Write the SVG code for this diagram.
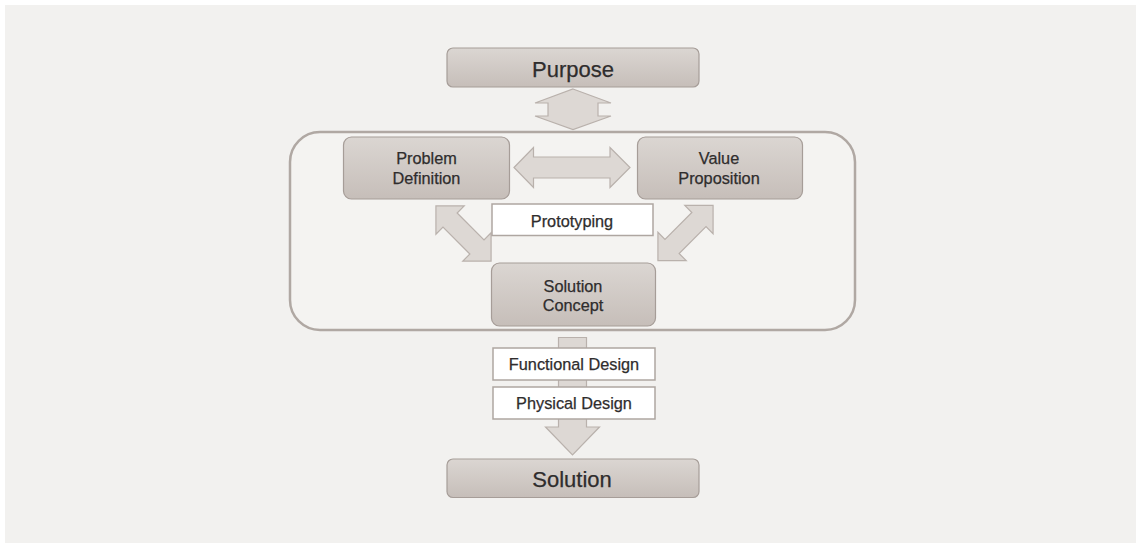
<svg xmlns="http://www.w3.org/2000/svg" width="1136" height="543" viewBox="0 0 1136 543">
  <defs>
    <linearGradient id="boxGrad" x1="0" y1="0" x2="0" y2="1">
      <stop offset="0" stop-color="#dbd6d2"/>
      <stop offset="1" stop-color="#c6beb9"/>
    </linearGradient>
    <style>
      .box { fill: url(#boxGrad); stroke: #a69d98; stroke-width: 1.2; }
      .wbox { fill: #ffffff; stroke: #aea6a1; stroke-width: 1.5; }
      .arrow { fill: #ddd8d4; stroke: #b9b1ac; stroke-width: 1.2; stroke-linejoin: miter; }
      .container { fill: #f4f3f1; stroke: #b0a8a3; stroke-width: 2.5; }
      text { font-family: "Liberation Sans", Arial, sans-serif; fill: #2f2d2d; stroke: #2f2d2d; stroke-width: 0.25; text-anchor: middle; }
      .big { font-size: 22px; }
      .mid { font-size: 16.3px; }
    </style>
  </defs>
  <rect x="0" y="0" width="1136" height="543" fill="#ffffff"/>
  <rect x="5" y="5" width="1131" height="538" fill="#f2f1ef"/>

  <g id="container">
    <rect class="container" x="290" y="132" width="565" height="198" rx="30" ry="30"/>
  </g>

  <g id="connectors">
    <path class="arrow" d="M573,89 L611,103 L598,103 L598,116 L611,116 L573,129.5 L535,116 L548,116 L548,103 L535,103 Z"/>
    <path class="arrow" d="M514,167.5 L533.5,147.5 L533.5,157 L610,157 L610,147.5 L630,167.5 L610,187.5 L610,178 L533.5,178 L533.5,187.5 Z"/>
    <path class="arrow" transform="translate(463.5,233.5) rotate(45)" d="M-39,0 L-19,-20 L-19,-10 L19,-10 L19,-20 L39,0 L19,20 L19,10 L-19,10 L-19,20 Z"/>
    <path class="arrow" transform="translate(685.5,233) rotate(-45)" d="M-39,0 L-19,-20 L-19,-10 L19,-10 L19,-20 L39,0 L19,20 L19,10 L-19,10 L-19,20 Z"/>
    <path class="arrow" d="M558.5,337.5 L586.5,337.5 L586.5,427 L599.5,427 L572.5,455 L545.5,427 L558.5,427 Z"/>
  </g>

  <g id="purpose">
    <rect class="box" x="447" y="48" width="252" height="39" rx="6"/>
    <text class="big" x="573" y="76.5">Purpose</text>
  </g>

  <g id="problem-definition">
    <rect class="box" x="343.5" y="137" width="166" height="62" rx="8"/>
    <text class="mid" x="426.5" y="164">Problem</text>
    <text class="mid" x="426.5" y="183.5">Definition</text>
  </g>

  <g id="value-proposition">
    <rect class="box" x="637.5" y="137" width="165" height="62" rx="8"/>
    <text class="mid" x="719" y="164">Value</text>
    <text class="mid" x="719" y="183.5">Proposition</text>
  </g>

  <g id="prototyping">
    <rect class="wbox" x="492" y="204" width="161" height="31.5"/>
    <text class="mid" x="572" y="226.5">Prototyping</text>
  </g>

  <g id="solution-concept">
    <rect class="box" x="491.5" y="263" width="164" height="63" rx="8"/>
    <text class="mid" x="573" y="291.5">Solution</text>
    <text class="mid" x="573" y="310.5">Concept</text>
  </g>

  <g id="functional-design">
    <rect class="wbox" x="493" y="348" width="162" height="32"/>
    <text class="mid" x="574" y="369.5">Functional Design</text>
  </g>

  <g id="physical-design">
    <rect class="wbox" x="493" y="387" width="162" height="32"/>
    <text class="mid" x="574" y="408.5">Physical Design</text>
  </g>

  <g id="solution">
    <rect class="box" x="447" y="459" width="252" height="38.5" rx="6"/>
    <text class="big" x="572" y="487">Solution</text>
  </g>
</svg>
